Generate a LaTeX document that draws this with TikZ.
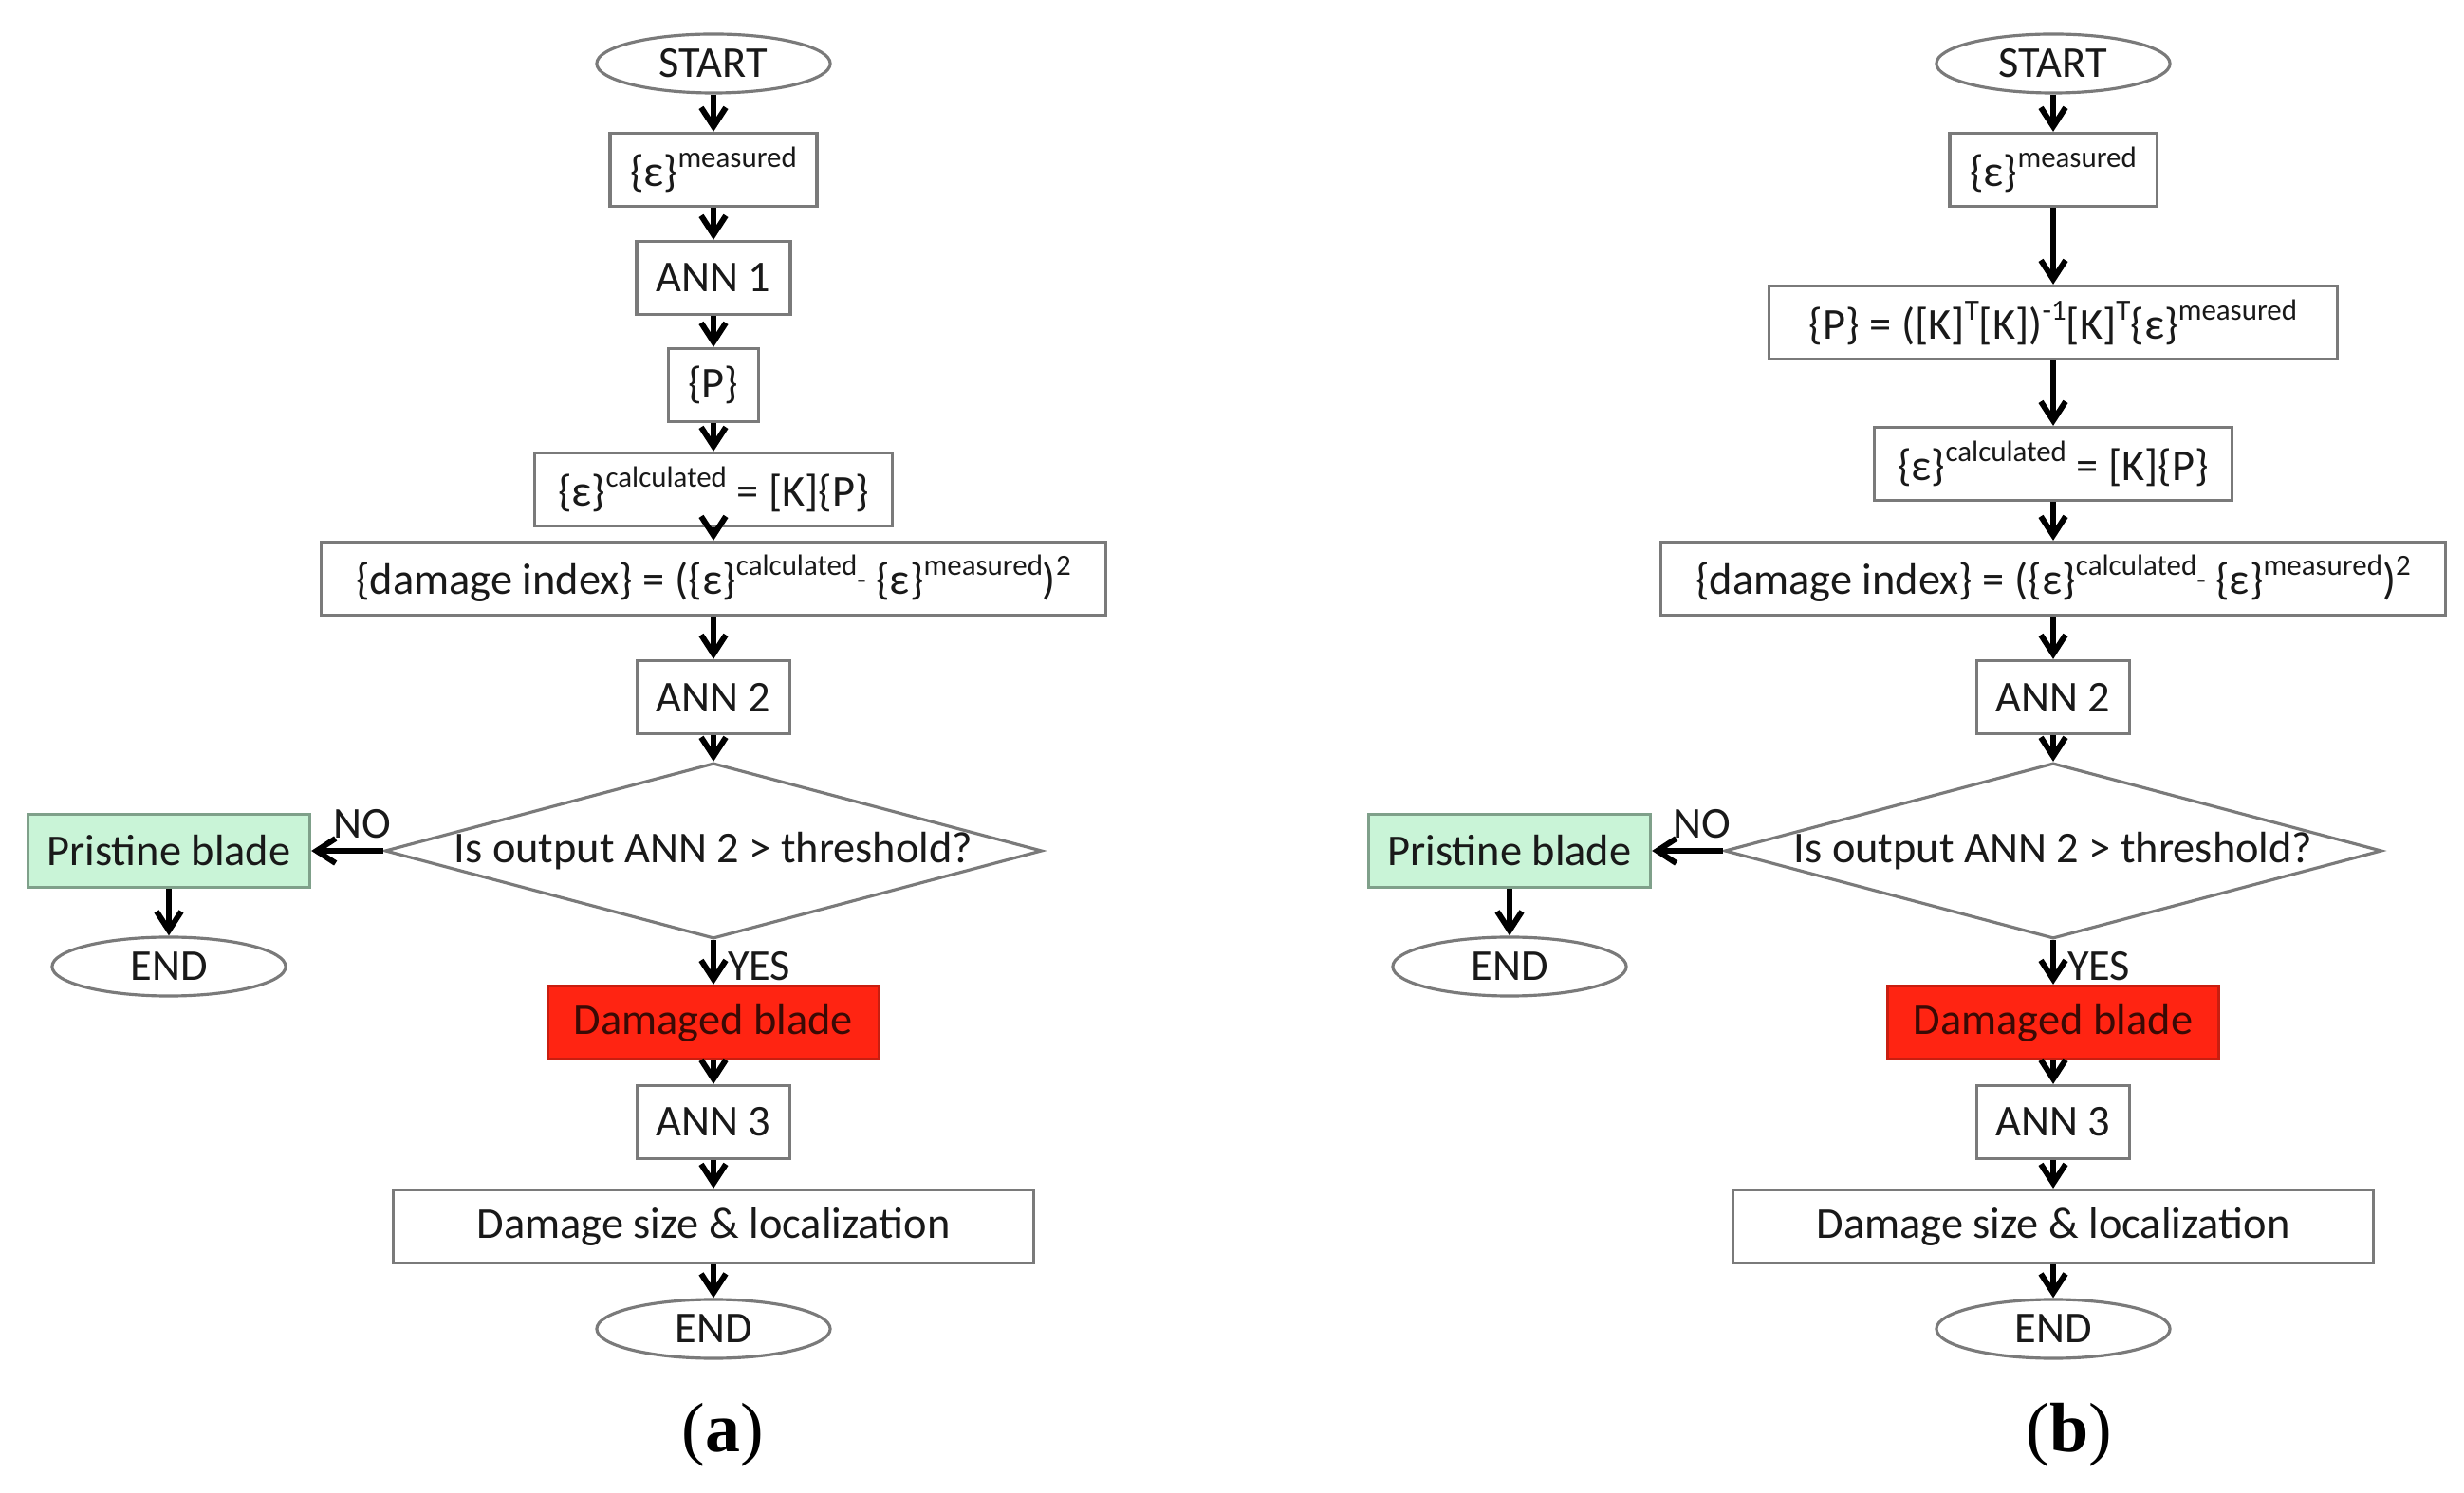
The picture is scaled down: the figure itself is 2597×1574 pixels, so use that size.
\documentclass[tikz,border=0pt]{standalone}
\usepackage{fontspec}
\setmainfont{Carlito}
\newfontfamily\capfont{Liberation Serif}
\usetikzlibrary{shapes.geometric,arrows.meta}
\definecolor{boxgray}{HTML}{7A7A7A}
\definecolor{pristinefill}{HTML}{C9F4D7}
\definecolor{pristineline}{HTML}{7FA08A}
\definecolor{damfill}{HTML}{FF2412}
\definecolor{damline}{HTML}{C81E10}
\definecolor{damtext}{HTML}{3A0A05}
\newcommand{\supx}[1]{\raisebox{0.42em}{\fontsize{8.8}{9}\selectfont #1}}
\newcommand{\dashx}{\raisebox{0.1em}{\fontsize{8.8}{9}\selectfont -}}
\tikzset{
  x=0.01cm, y=-0.01cm,
  every node/.style={font=\fontsize{13.2}{15.8}\selectfont, text=black!90},
  procbox/.style={draw=boxgray, line width=0.9pt, fill=white, rectangle, inner sep=0pt, minimum height=0.77cm},
  termnode/.style={draw=boxgray, line width=0.9pt, fill=white, ellipse, inner sep=0pt, minimum width=2.46cm, minimum height=0.62cm},
  decnode/.style={draw=boxgray, line width=0.9pt, fill=white, diamond, inner sep=0pt, minimum width=6.92cm, minimum height=1.85cm, aspect=3.74},
  flow/.style={line width=1.7pt, black, -{Straight Barb[length=0.2cm,width=0.26cm]}},
  caplabel/.style={font=\capfont\fontsize{21}{24}\selectfont, text=black},
}
\begin{document}
\begin{tikzpicture}
\fill[white] (0,0) rectangle (2597,1574);
\useasboundingbox (0,0) rectangle (2597,1574);

% ---------------- panel (a) ----------------
\node[termnode] (aS) at (752,67) {START};
\node[procbox, minimum width=2.18cm] (aM) at (752,179) {\{ε\}\supx{measured}};
\node[procbox, minimum width=1.62cm] (a1) at (752,293) {ANN 1};
\node[procbox, minimum width=0.95cm] (aP) at (752,406) {\{P\}};
\node[procbox, minimum width=3.76cm] (aC) at (752,516) {\{ε\}\supx{calculated} = [K]\{P\}};
\node[procbox, minimum width=8.27cm] (aD) at (752,610) {\{damage index\} = (\{ε\}\supx{calculated}\dashx{} \{ε\}\supx{measured})\supx{2}};
\node[procbox, minimum width=1.61cm] (a2) at (752,735) {ANN 2};
\node[decnode] (aQ) at (752,897) {\makebox[0pt]{Is output ANN 2 > threshold?}};
\node[procbox, minimum width=2.97cm, fill=pristinefill, draw=pristineline] (aG) at (178,897) {Pristine blade};
\node[termnode] (aE1) at (178,1019) {END};
\node[procbox, minimum width=3.49cm, fill=damfill, draw=damline, text=damtext] (aR) at (752,1078) {Damaged blade};
\node[procbox, minimum width=1.61cm] (a3) at (752,1183) {ANN 3};
\node[procbox, minimum width=6.74cm] (aL) at (752,1293) {Damage size \& localization};
\node[termnode] (aE2) at (752,1401) {END};
\node[caplabel] (aCap) at (762,1513) {(\textbf{a})};

\draw[flow] (aS) -- (aM);
\draw[flow] (aM) -- (a1);
\draw[flow] (a1) -- (aP);
\draw[flow] (aP) -- (aC);
\draw[flow] (aC) -- (aD);
\draw[flow] (aD) -- (a2);
\draw[flow] (a2) -- (aQ);
\draw[flow] (aQ.west) -- node[pos=0.3, above, inner sep=0.1cm] (aNo) {NO} (aG.east);
\draw[flow] (aG) -- (aE1);
\draw[flow] (aQ.south) -- node[pos=0.58, right, inner sep=0.12cm] (aYes) {YES} (aR.north);
\draw[flow] (aR) -- (a3);
\draw[flow] (a3) -- (aL);
\draw[flow] (aL) -- (aE2);

% ---------------- panel (b) ----------------
\node[termnode] (bS) at (2164,67) {START};
\node[procbox, minimum width=2.18cm] (bM) at (2164,179) {\{ε\}\supx{measured}};
\node[procbox, minimum width=5.98cm] (bP) at (2164,340) {\{P\} = ([K]\supx{T}[K])\supx{-1}[K]\supx{T}\{ε\}\supx{measured}};
\node[procbox, minimum width=3.77cm] (bC) at (2164,489) {\{ε\}\supx{calculated} = [K]\{P\}};
\node[procbox, minimum width=8.27cm] (bD) at (2164,610) {\{damage index\} = (\{ε\}\supx{calculated}\dashx{} \{ε\}\supx{measured})\supx{2}};
\node[procbox, minimum width=1.61cm] (b2) at (2164,735) {ANN 2};
\node[decnode] (bQ) at (2164,897) {\makebox[0pt]{Is output ANN 2 > threshold?}};
\node[procbox, minimum width=2.97cm, fill=pristinefill, draw=pristineline] (bG) at (1591,897) {Pristine blade};
\node[termnode] (bE1) at (1591,1019) {END};
\node[procbox, minimum width=3.49cm, fill=damfill, draw=damline, text=damtext] (bR) at (2164,1078) {Damaged blade};
\node[procbox, minimum width=1.61cm] (b3) at (2164,1183) {ANN 3};
\node[procbox, minimum width=6.74cm] (bL) at (2164,1293) {Damage size \& localization};
\node[termnode] (bE2) at (2164,1401) {END};
\node[caplabel] (bCap) at (2181,1513) {(\textbf{b})};

\draw[flow] (bS) -- (bM);
\draw[flow] (bM) -- (bP);
\draw[flow] (bP) -- (bC);
\draw[flow] (bC) -- (bD);
\draw[flow] (bD) -- (b2);
\draw[flow] (b2) -- (bQ);
\draw[flow] (bQ.west) -- node[pos=0.3, above, inner sep=0.1cm] (bNo) {NO} (bG.east);
\draw[flow] (bG) -- (bE1);
\draw[flow] (bQ.south) -- node[pos=0.58, right, inner sep=0.12cm] (bYes) {YES} (bR.north);
\draw[flow] (bR) -- (b3);
\draw[flow] (b3) -- (bL);
\draw[flow] (bL) -- (bE2);
\end{tikzpicture}
\end{document}
